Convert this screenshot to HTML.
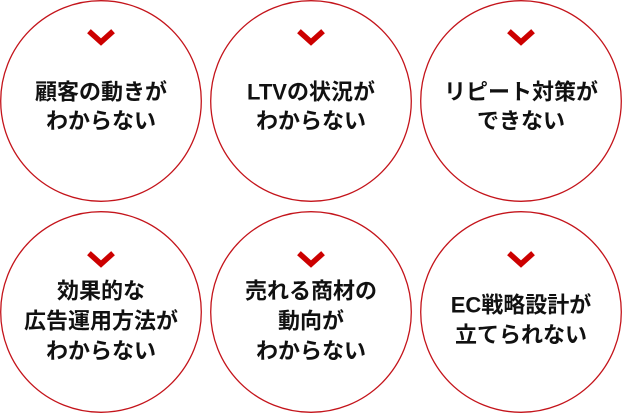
<!DOCTYPE html>
<html><head><meta charset="utf-8"><style>
html,body{margin:0;padding:0;background:#fff;width:622px;height:414px;overflow:hidden}
svg text{font-family:"Liberation Sans","Noto Sans CJK JP",sans-serif;font-weight:bold;font-size:22px;fill:#111;text-anchor:middle;dominant-baseline:central}
</style></head><body>
<svg width="622" height="414" viewBox="0 0 622 414" xmlns="http://www.w3.org/2000/svg">
<g fill="none" stroke="#c4141b" stroke-width="1.3">
<circle cx="101" cy="101" r="100.3"/><circle cx="311" cy="101" r="100.3"/><circle cx="521" cy="101" r="100.3"/>
<circle cx="101" cy="312" r="100.3"/><circle cx="311" cy="312" r="100.3"/><circle cx="521" cy="312" r="100.3"/>
</g>
<g fill="none" stroke="#c00" stroke-width="5.5" stroke-linecap="square">
<polyline points="91,33 101,42 111,33"/><polyline points="301,33 311,42 321,33"/><polyline points="511,33 521,42 531,33"/>
<polyline points="91,255 101,264 111,255"/><polyline points="301,255 311,264 321,255"/><polyline points="511,255 521,264 531,255"/>
</g>
<text x="101" y="92">顧客の動きが</text><text x="101" y="121">わからない</text>
<text x="311" y="92">LTVの状況が</text><text x="311" y="121">わからない</text>
<text x="521" y="92">リピート対策が</text><text x="521" y="121">できない</text>
<text x="101" y="291">効果的な</text><text x="101" y="321">広告運用方法が</text><text x="101" y="351">わからない</text>
<text x="311" y="291">売れる商材の</text><text x="311" y="321">動向が</text><text x="311" y="351">わからない</text>
<text x="521" y="305">EC戦略設計が</text><text x="521" y="335">立てられない</text>
</svg>
</body></html>
